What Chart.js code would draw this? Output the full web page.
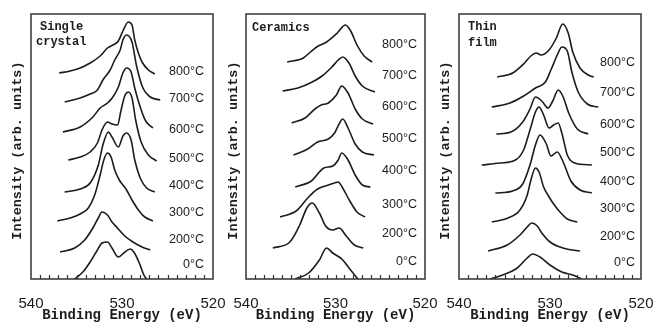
<!DOCTYPE html>
<html><head><meta charset="utf-8">
<script src="https://cdn.jsdelivr.net/npm/chart.js@4/dist/chart.umd.min.js"></script>
<style>
html,body{margin:0;padding:0;background:#fff;}
#wrap{position:relative;width:655px;height:324px;overflow:hidden;background:#fff;}
canvas{position:absolute;left:0;top:0;}
</style></head><body>
<div id="wrap">
<canvas id="c1" width="655" height="324"></canvas>
<canvas id="c2" width="655" height="324"></canvas>
<canvas id="c3" width="655" height="324"></canvas>
</div>
<script>
// ---------- data ----------
const temperatures = ['800°C','700°C','600°C','500°C','400°C','300°C','200°C','0°C'];
const energyTicks = [540, 530, 520];
const xTitle = 'Binding Energy (eV)';
const yTitle = 'Intensity (arb. units) ';
const panelTitles = [['Single','crystal'], ['Ceramics'], ['Thin','film']];

// Single crystal: baseline offsets and [binding energy, intensity above baseline]
const scOffsets = [206, 179, 149, 119, 87, 58, 29, 0];
const sc800 = [[536.9,0],[535.7,2],[534.6,5],[533.5,10],[532.4,17],[531.6,25],[531.0,28],[530.4,32],[529.9,42],[529.3,51],[528.9,48],[528.6,33],[528.2,20],[527.8,11],[527.1,3],[526.4,-1]];
const sc700 = [[536.3,-2],[534.6,2],[533.5,6],[532.7,10],[532.1,20],[531.3,30],[530.8,40],[530.2,50],[529.9,60],[529.5,65],[528.9,58],[528.4,34],[527.7,12],[526.9,3],[525.8,0]];
const sc600 = [[536.5,-2],[534.6,3],[533.2,13],[532.4,22],[531.6,27],[531.0,33],[530.4,43],[529.9,57],[529.5,62],[529.0,58],[528.6,42],[528.0,23],[527.4,9],[526.6,2]];
const sc500 = [[535.9,0],[534.6,3],[533.5,8],[532.7,17],[532.2,30],[531.6,38],[531.1,36],[530.5,35],[530.1,50],[529.7,64],[529.3,68],[528.9,62],[528.5,40],[527.9,18],[527.1,5],[526.2,-1]];
const sc400 = [[536.3,0],[534.6,3],[533.5,9],[532.6,27],[532.1,47],[531.5,60],[531.1,55],[530.4,45],[529.9,56],[529.5,59],[529.0,52],[528.6,32],[528.0,14],[527.3,4],[526.4,0]];
const sc300 = [[537.1,0],[535.7,3],[534.6,7],[533.7,13],[533.0,26],[532.4,46],[532.0,61],[531.6,68],[531.2,64],[530.8,51],[530.3,41],[529.9,36],[529.5,31],[528.9,21],[528.2,11],[527.5,4],[526.6,0]];
const sc200 = [[536.8,-2],[535.2,2],[534.1,10],[533.2,22],[532.6,32],[532.2,38],[531.6,35],[531.1,28],[530.5,22],[529.7,14],[528.8,8],[527.8,3],[526.9,0]];
const sc0   = [[535.2,0],[534.3,7],[533.5,17],[532.7,29],[532.2,36],[531.6,37],[531.1,31],[530.4,22],[529.8,26],[529.1,30],[528.7,27],[528.1,16],[527.6,4],[527.3,0]];

// Ceramics
const crOffsets = [217, 188, 156, 124, 92, 62, 31, 0];
const cr800 = [[535.4,0],[533.6,4],[532.8,10],[532.1,15],[531.0,20],[529.8,29],[528.9,37],[528.3,31],[527.6,17],[526.8,6],[525.9,0]];
const cr700 = [[535.9,0],[534.2,3],[532.6,9],[531.5,15],[530.4,24],[529.7,31],[529.2,34],[528.5,28],[527.8,15],[527.0,5],[525.6,-1]];
const cr600 = [[534.9,0],[533.4,5],[532.3,14],[531.6,18],[530.8,20],[529.9,28],[529.3,37],[528.6,30],[527.8,14],[527.0,4],[525.8,-1]];
const cr500 = [[534.7,0],[533.1,6],[532.0,13],[530.8,16],[530.1,22],[529.6,31],[529.2,36],[528.6,27],[527.8,11],[527.0,3],[525.7,0]];
const cr400 = [[534.5,0],[532.7,6],[531.3,19],[530.3,21],[529.7,27],[529.3,34],[528.6,27],[527.8,12],[527.0,2],[526.1,0]];
const cr300 = [[536.2,0],[534.4,6],[533.0,20],[532.0,28],[530.8,32],[530.1,34],[529.7,35],[529.2,29],[528.4,16],[527.6,5],[526.7,0]];
const cr200 = [[537.0,0],[535.1,6],[534.0,23],[533.2,40],[532.6,45],[531.8,35],[531.1,22],[530.3,18],[529.6,20],[528.8,12],[527.9,3],[526.9,0]];
const cr0   = [[534.5,0],[533.0,6],[531.8,19],[531.0,31],[530.3,26],[529.3,20],[528.4,10],[527.5,0]];

// Thin film
const tfOffsets = [202, 172, 145, 114, 86, 57, 28, 0];
const tf800 = [[535.8,0],[534.1,4],[532.9,13],[532.1,21],[531.5,24],[531.0,22],[530.1,27],[529.3,39],[528.6,53],[528.0,44],[527.5,25],[526.7,9],[525.8,2],[525.2,0]];
const tf700 = [[536.4,0],[534.4,4],[532.9,11],[531.6,19],[530.5,25],[529.9,37],[529.2,52],[528.7,60],[528.1,56],[527.6,35],[526.9,15],[525.9,3],[524.7,0]];
const tf600 = [[535.9,0],[534.3,2],[533.0,12],[532.2,25],[531.6,37],[530.9,33],[530.2,26],[529.7,33],[529.1,44],[528.6,38],[527.9,20],[527.0,5],[525.8,0]];
const tf500 = [[537.5,0],[535.5,2],[533.8,5],[532.9,15],[532.2,35],[531.6,53],[531.2,58],[530.7,50],[530.1,37],[529.6,40],[529.1,42],[528.7,32],[528.1,10],[527.3,2],[525.4,0]];
const tf400 = [[536.0,0],[534.1,2],[533.0,9],[532.2,28],[531.6,48],[531.1,58],[530.4,49],[529.9,37],[529.2,41],[528.6,32],[527.7,12],[526.7,3],[525.4,0]];
const tf300 = [[536.4,0],[534.6,4],[533.3,12],[532.5,27],[532.1,42],[531.6,54],[531.2,50],[530.7,35],[530.1,25],[529.6,18],[528.9,10],[528.1,3],[527.0,0]];
const tf200 = [[536.8,0],[534.7,6],[533.3,16],[532.5,24],[532.0,28],[531.4,25],[530.9,18],[530.0,9],[528.6,3],[526.7,0]];
const tf0   = [[536.6,0],[535.2,4],[533.6,11],[532.5,21],[531.9,25],[531.1,22],[530.0,14],[528.7,7],[527.5,4],[526.5,0]];

// ---------- layout (pixels / styles) ----------
const PLOT_TOP = 14, PLOT_BOTTOM = 279, Y_AXIS_W = 30;
const layouts = [
  { frameL: 31,  frameR: 213, yTitlePad: 8.9, labelX: 204,
    labelY: [72, 99, 130, 159, 186, 213, 240, 265],
    titlePos: [[40, 27], [36, 42]] },
  { frameL: 246, frameR: 425, yTitlePad: 9.9, labelX: 417,
    labelY: [45, 76, 107, 139, 171, 205, 234, 262],
    titlePos: [[252, 28]] },
  { frameL: 459, frameR: 641, yTitlePad: 8.9, labelX: 635,
    labelY: [63, 93, 125, 153, 182, 209, 237, 263],
    titlePos: [[468, 27], [468, 43]] }
];
const INK = '#1c1c1c';
const MONO = '"Liberation Mono", "DejaVu Sans Mono", monospace';
const SANS = '"Liberation Sans", Arial, sans-serif';

const panelData = [
  { offsets: scOffsets, curves: [sc800, sc700, sc600, sc500, sc400, sc300, sc200, sc0] },
  { offsets: crOffsets, curves: [cr800, cr700, cr600, cr500, cr400, cr300, cr200, cr0] },
  { offsets: tfOffsets, curves: [tf800, tf700, tf600, tf500, tf400, tf300, tf200, tf0] }
];

function makePanel(idx) {
  const L = layouts[idx], D = panelData[idx];
  const datasets = D.curves.map((c, i) => ({
    label: temperatures[i],
    data: c.map(p => ({ x: p[0], y: D.offsets[i] + p[1] })),
    borderColor: INK,
    borderWidth: 1.6,
    pointRadius: 0,
    fill: false,
    cubicInterpolationMode: 'monotone'
  }));

  const decor = {
    id: 'decor' + idx,
    afterDraw(chart) {
      const ctx = chart.ctx, a = chart.chartArea, xs = chart.scales.x;
      ctx.save();
      // frame
      ctx.strokeStyle = '#333';
      ctx.lineWidth = 1.5;
      ctx.strokeRect(a.left, a.top, a.right - a.left, a.bottom - a.top);
      // inward minor ticks every 1 eV
      ctx.lineWidth = 1.2;
      ctx.beginPath();
      for (let e = 521; e <= 539; e++) {
        const px = Math.round(xs.getPixelForValue(e)) + 0.5;
        ctx.moveTo(px, a.bottom);
        ctx.lineTo(px, a.bottom - 4);
      }
      ctx.stroke();
      // temperature labels
      ctx.fillStyle = INK;
      ctx.font = '12.5px ' + SANS;
      ctx.textAlign = 'right';
      ctx.textBaseline = 'middle';
      temperatures.forEach((t, i) => ctx.fillText(t, L.labelX, L.labelY[i]));
      // panel title
      ctx.font = 'bold 12px ' + MONO;
      ctx.textAlign = 'left';
      panelTitles[idx].forEach((t, i) => ctx.fillText(t, L.titlePos[i][0], L.titlePos[i][1]));
      ctx.restore();
    }
  };

  return new Chart(document.getElementById('c' + (idx + 1)), {
    type: 'line',
    data: { datasets },
    plugins: [decor],
    options: {
      responsive: false,
      animation: false,
      events: [],
      devicePixelRatio: 1,
      layout: { padding: { left: L.frameL - Y_AXIS_W, right: 655 - L.frameR, top: PLOT_TOP, bottom: 0 } },
      plugins: { legend: { display: false }, tooltip: { enabled: false } },
      scales: {
        x: {
          type: 'linear', reverse: true, min: 520, max: 540,
          afterBuildTicks(s) { s.ticks = energyTicks.map(v => ({ value: v })); },
          ticks: { color: INK, font: { family: SANS, size: 15 }, padding: 8, maxRotation: 0, autoSkip: false },
          grid: { display: false }, border: { display: false },
          title: { display: true, text: xTitle, color: INK, padding: { top: 0, bottom: 0 },
                   font: { family: MONO, size: 14, weight: 'bold' } },
          afterFit(s) { s.height = 324 - PLOT_BOTTOM; s.paddingLeft = 0; s.paddingRight = 0; }
        },
        y: {
          type: 'linear', min: 0, max: PLOT_BOTTOM - PLOT_TOP,
          ticks: { display: false }, grid: { display: false }, border: { display: false },
          title: { display: true, text: yTitle, color: INK, padding: { top: L.yTitlePad, bottom: 0 },
                   font: { family: MONO, size: 13.5, weight: 'bold' } },
          afterFit(s) { s.width = Y_AXIS_W; s.paddingTop = 0; s.paddingBottom = 0; }
        }
      }
    }
  });
}
[0, 1, 2].forEach(makePanel);
</script>
</body></html>
